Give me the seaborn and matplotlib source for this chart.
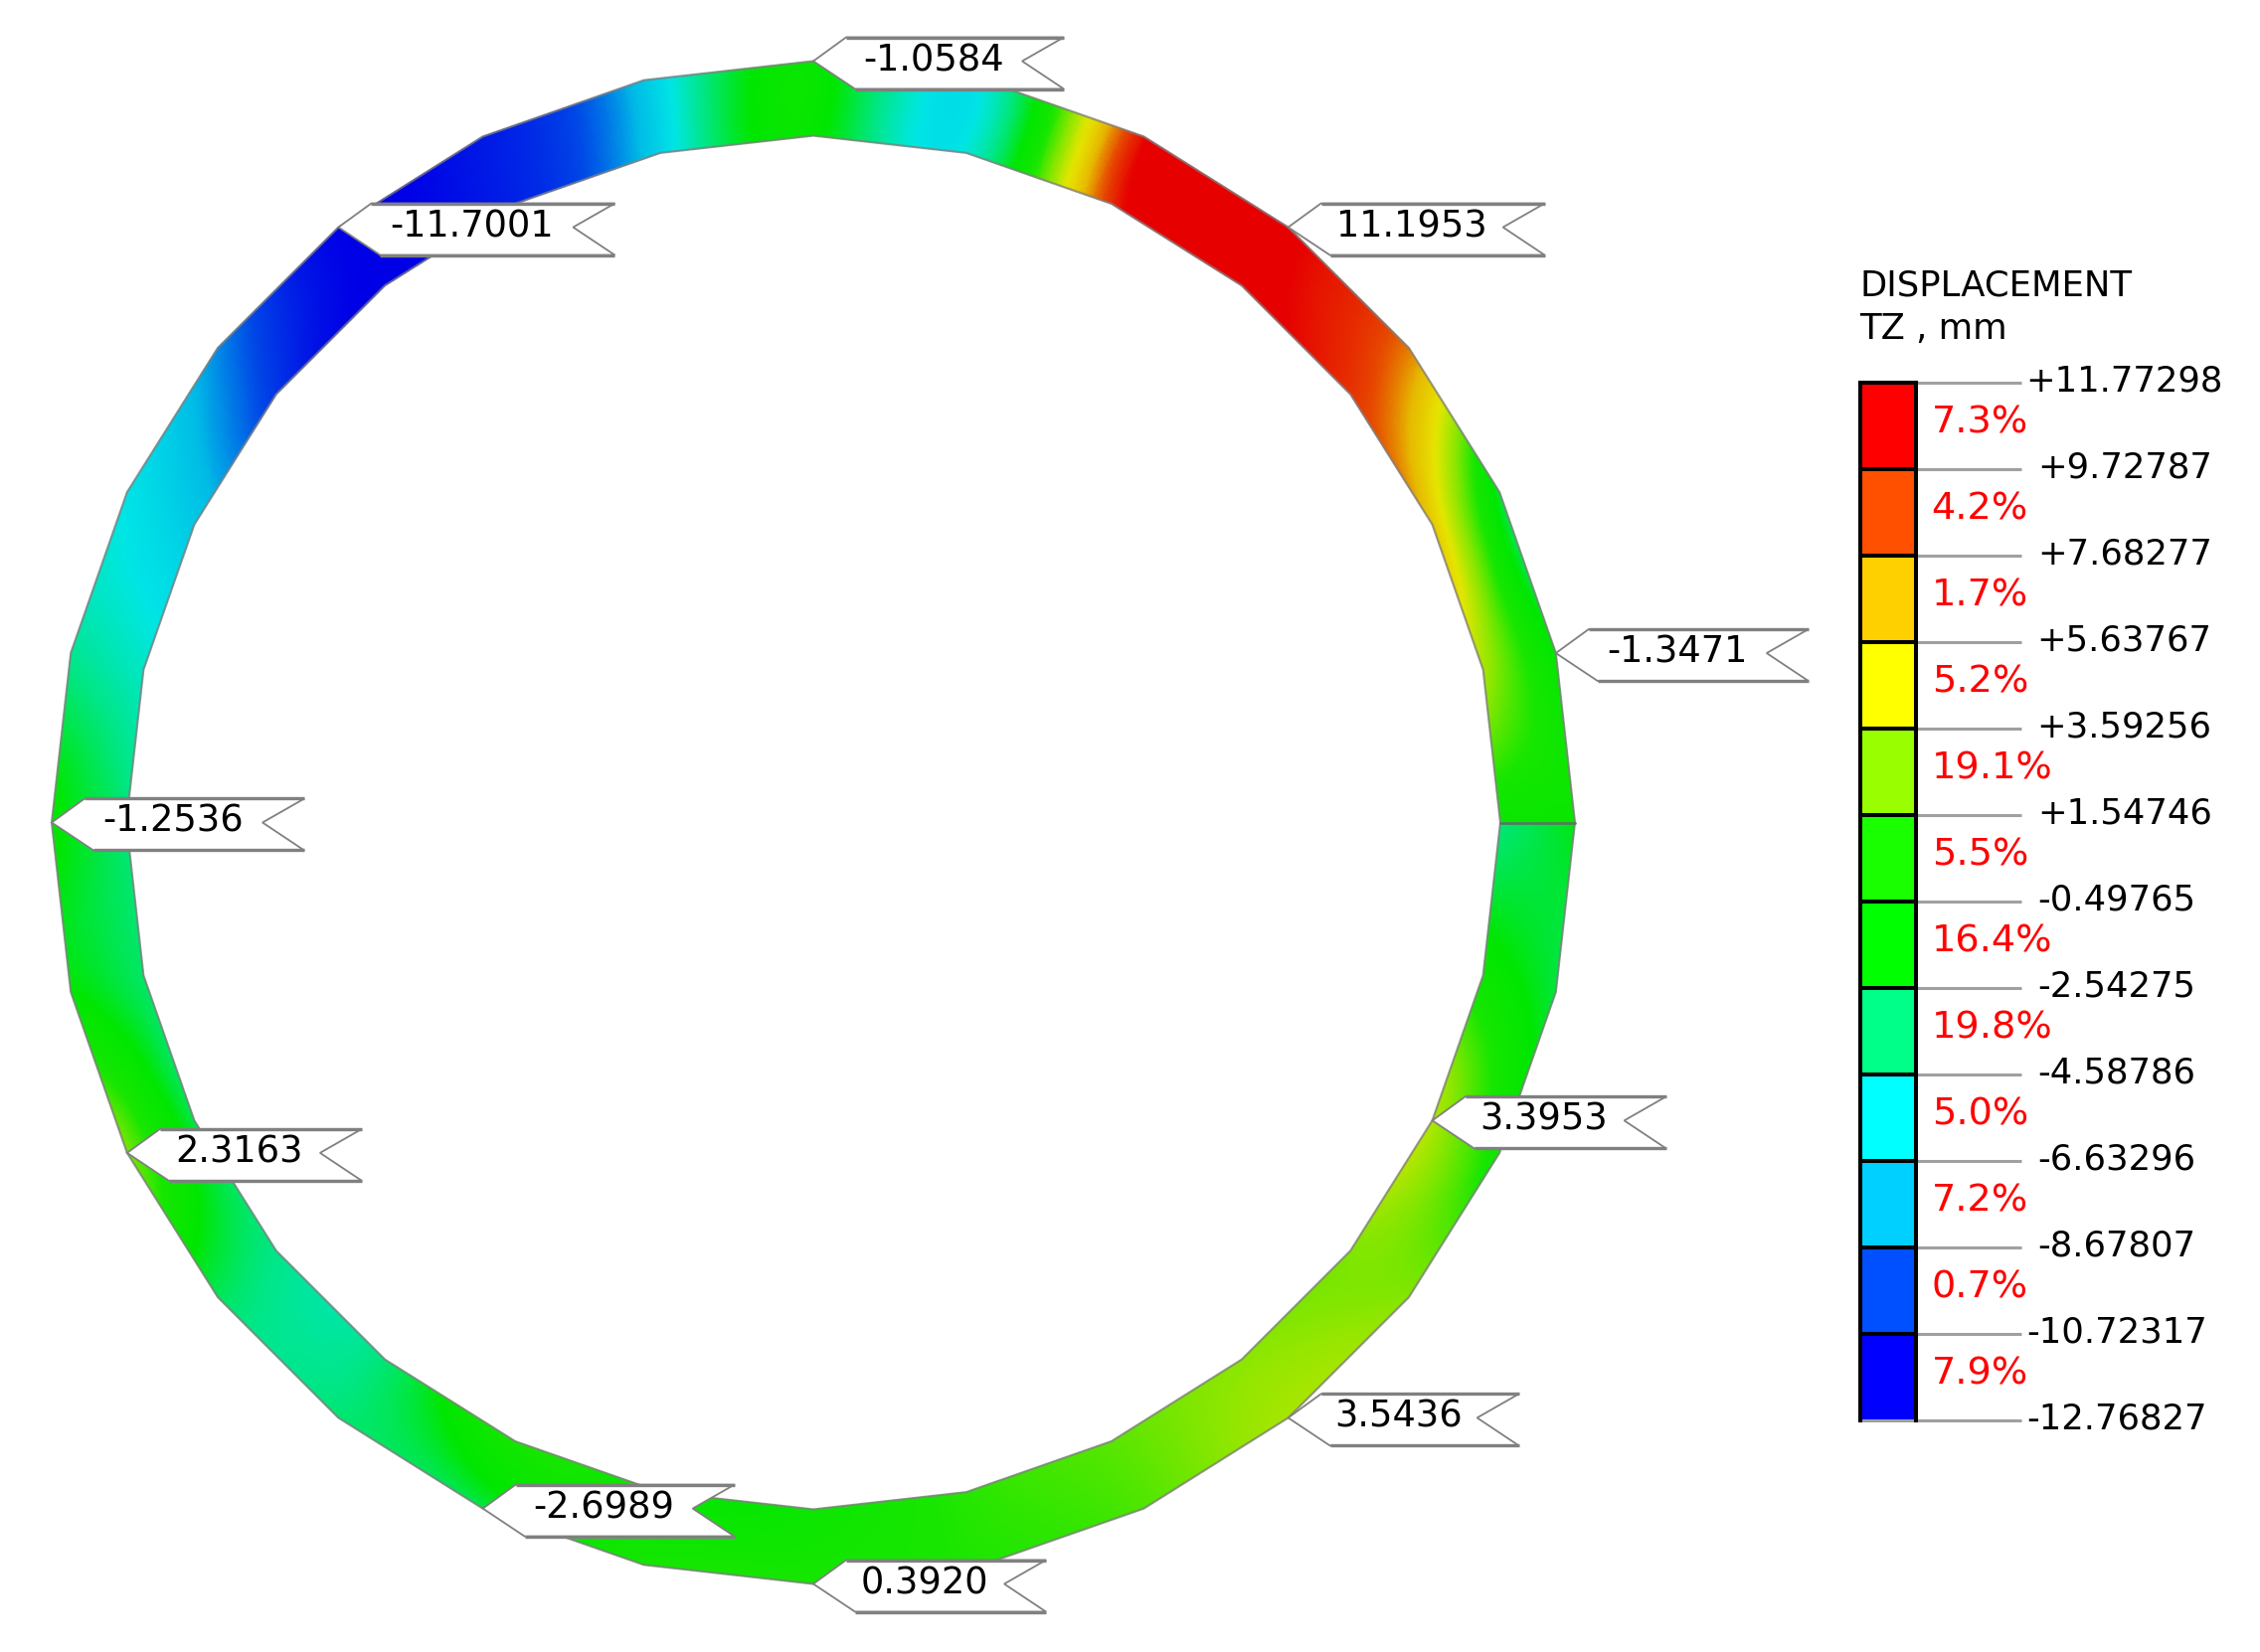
"""Displacement TZ on a 28-segment ring, with node callouts and a banded legend."""
import numpy as np
import matplotlib
matplotlib.use("Agg")
import matplotlib.pyplot as plt
import matplotlib.tri as mtri
from matplotlib.colors import LinearSegmentedColormap, ListedColormap, Normalize
from matplotlib.patches import Polygon
from matplotlib.transforms import ScaledTranslation
import seaborn as sns

sns.set_style("white")
plt.rcParams["font.family"] = ["DejaVu Sans"]

# node values around the ring, counter-clockwise from east. node 28 is the far
# side of the seam at east, so it differs from node 0
tz_outer = [-0.6, -1.3471, -2.3, 7.8, 11.1953, 10.4, -5.3, -1.0584, -7.0, -11.0,
            -11.7001, -8.5, -5.7, -4.0, -1.2536, -1.5, 2.3163, -3.0, -3.4, -2.6989,
            0.3, 0.392, 0.6, 1.5, 3.2, 2.5, -0.3, -2.5, -1.8]
tz_inner = [-0.8, 3.2, 6.0, 9.3, 11.7, 9.5, -5.3, -1.2, -6.5, -10.8,
            -11.8, -10.2, -7.0, -5.0, -3.5, -3.2, -2.7, -3.8, -3.5, 0.3,
            -0.8, -0.5, 0.8, 1.7, 2.6, 2.4, 3.3953, -0.5, -3.6]

# callouts: node, ring side, text
callout_nodes = [7, 4, 10, 1, 14, 16, 26, 24, 19, 21]
callout_sides = ["outer", "outer", "outer", "outer", "outer", "outer", "inner", "outer", "outer", "outer"]
callout_text = ["-1.0584", "11.1953", "-11.7001", "-1.3471", "-1.2536",
                "2.3163", "3.3953", "3.5436", "-2.6989", "0.3920"]
callout_width = [252, 258, 278, 254, 254, 236, 235, 232, 253, 234]

# legend, top to bottom
legend_levels = [11.77298, 9.72787, 7.68277, 5.63767, 3.59256, 1.54746, -0.49765,
                 -2.54275, -4.58786, -6.63296, -8.67807, -10.72317, -12.76827]
legend_labels = ["+11.77298", "+9.72787", "+7.68277", "+5.63767", "+3.59256", "+1.54746",
                 "-0.49765", "-2.54275", "-4.58786", "-6.63296", "-8.67807", "-10.72317", "-12.76827"]
legend_percent = ["7.3%", "4.2%", "1.7%", "5.2%", "19.1%", "5.5%",
                  "16.4%", "19.8%", "5.0%", "7.2%", "0.7%", "7.9%"]
band_colors = ["#ff0000", "#ff5000", "#ffd000", "#ffff00", "#99ff00", "#1aff00",
               "#00ff00", "#00ff88", "#00ffff", "#00d0ff", "#0050ff", "#0000ff"]

W, H = 2273, 1662
CX, CY = 818, 827.5
R_OUT, R_IN = 766, 691
N_SEG = 28
FS = 25.5
GREY = "#808080"
TICK_GREY = "#a0a0a0"

fig = plt.figure(figsize=(W / 100, H / 100), dpi=100, facecolor="white")
ax = fig.add_axes([0, 0, 1, 1])
ax.set_xlim(0, W)
ax.set_ylim(H, 0)
ax.axis("off")

# ring mesh
theta = np.deg2rad(np.arange(N_SEG + 1) * 360 / N_SEG)
x_out, y_out = CX + R_OUT * np.cos(theta), CY - R_OUT * np.sin(theta)
x_in, y_in = CX + R_IN * np.cos(theta), CY - R_IN * np.sin(theta)
xs = np.concatenate([x_out, x_in])
ys = np.concatenate([y_out, y_in])
zs = np.array(tz_outer + tz_inner)
n = N_SEG + 1
triangles = []
for k in range(N_SEG):
    triangles.append([k, k + n, k + 1])
    triangles.append([k + n, k + n + 1, k + 1])
tri_mesh = mtri.Triangulation(xs, ys, triangles)

# smooth rainbow for the ring, slightly darker than the legend bands
rgb = np.array([matplotlib.colors.to_rgb(c) for c in band_colors[::-1]]) * 0.9
stops = [(0.0, rgb[0])] + [((i + 0.5) / 12, rgb[i]) for i in range(12)] + [(1.0, rgb[-1])]
ring_cmap = LinearSegmentedColormap.from_list("ring", stops, N=512)
ring_norm = Normalize(legend_levels[-1], legend_levels[0])

tri_fine, z_fine = mtri.UniformTriRefiner(tri_mesh).refine_field(zs, subdiv=5)
ax.tripcolor(tri_fine, z_fine, shading="gouraud", cmap=ring_cmap, norm=ring_norm, zorder=1)

ax.plot(x_out, y_out, color=GREY, lw=1.6, alpha=0.75, zorder=2)
ax.plot(x_in, y_in, color=GREY, lw=1.6, alpha=0.75, zorder=2)
ax.plot([x_out[0], x_in[0]], [y_out[0], y_in[0]], color="#4f7f55", lw=2.0, zorder=2)

# callout flags
for node, side, label, width in zip(callout_nodes, callout_sides, callout_text, callout_width):
    tx = x_out[node] if side == "outer" else x_in[node]
    ty = y_out[node] if side == "outer" else y_in[node]
    top, bottom = ty - 24, ty + 28
    right = tx + width
    outline = [(tx, ty), (tx + 33, top), (right, top), (right - 42, ty),
               (right, bottom), (tx + 42, bottom)]
    ax.add_patch(Polygon(outline, closed=True, facecolor="white", edgecolor=GREY, lw=1.3, zorder=3))
    ax.plot([tx + 33, right], [top, top], color=GREY, lw=2.4, solid_capstyle="butt", zorder=4)
    ax.plot([tx + 42, right], [bottom, bottom], color=GREY, lw=2.4, solid_capstyle="butt", zorder=4)
    ax.text(tx + width / 2 - 5, ty - 1, label, fontsize=26.5, color="black",
            ha="center", va="center", zorder=5)

ax.text(1870, 270, "DISPLACEMENT", fontsize=FS, color="black", ha="left", va="top")
ax.text(1870, 314, "TZ , mm", fontsize=FS, color="black", ha="left", va="top")

# legend bar
lax = fig.add_axes([1871 / W, 1 - 1429 / H, 56 / W, (1429 - 385) / H])
levels = np.array(legend_levels)
band_mid = ((levels[:-1] + levels[1:]) / 2).reshape(-1, 1)
sns.heatmap(band_mid, ax=lax, cmap=ListedColormap(band_colors[::-1]),
            vmin=levels[-1], vmax=levels[0], cbar=False,
            linewidths=0, xticklabels=False, yticklabels=False)
for i in range(1, 12):
    lax.axhline(i, color="black", lw=2.9)
lax.axhline(12, color=TICK_GREY, lw=2.2, clip_on=False)
for name in ["left", "right", "top"]:
    lax.spines[name].set_visible(True)
    lax.spines[name].set_color("black")
    lax.spines[name].set_linewidth(2.9)
lax.yaxis.tick_right()
lax.set_yticks(np.arange(13))
lax.set_yticklabels(legend_labels, fontsize=FS, color="black", ha="center", rotation=0)
lax.tick_params(axis="y", length=76, width=2.2, color=TICK_GREY, pad=75)
for lab in lax.get_yticklabels():
    shift = -8 if lab.get_text().startswith("-") else 0
    lab.set_transform(lab.get_transform() + ScaledTranslation(shift / 100, 5 / 100, fig.dpi_scale_trans))

for i, pct in enumerate(legend_percent):
    lax.text(1.28, i + 0.47, pct, transform=lax.get_yaxis_transform(), fontsize=27.5,
             color="#ff0000", ha="left", va="center")

fig.savefig("out.png", dpi=100)
